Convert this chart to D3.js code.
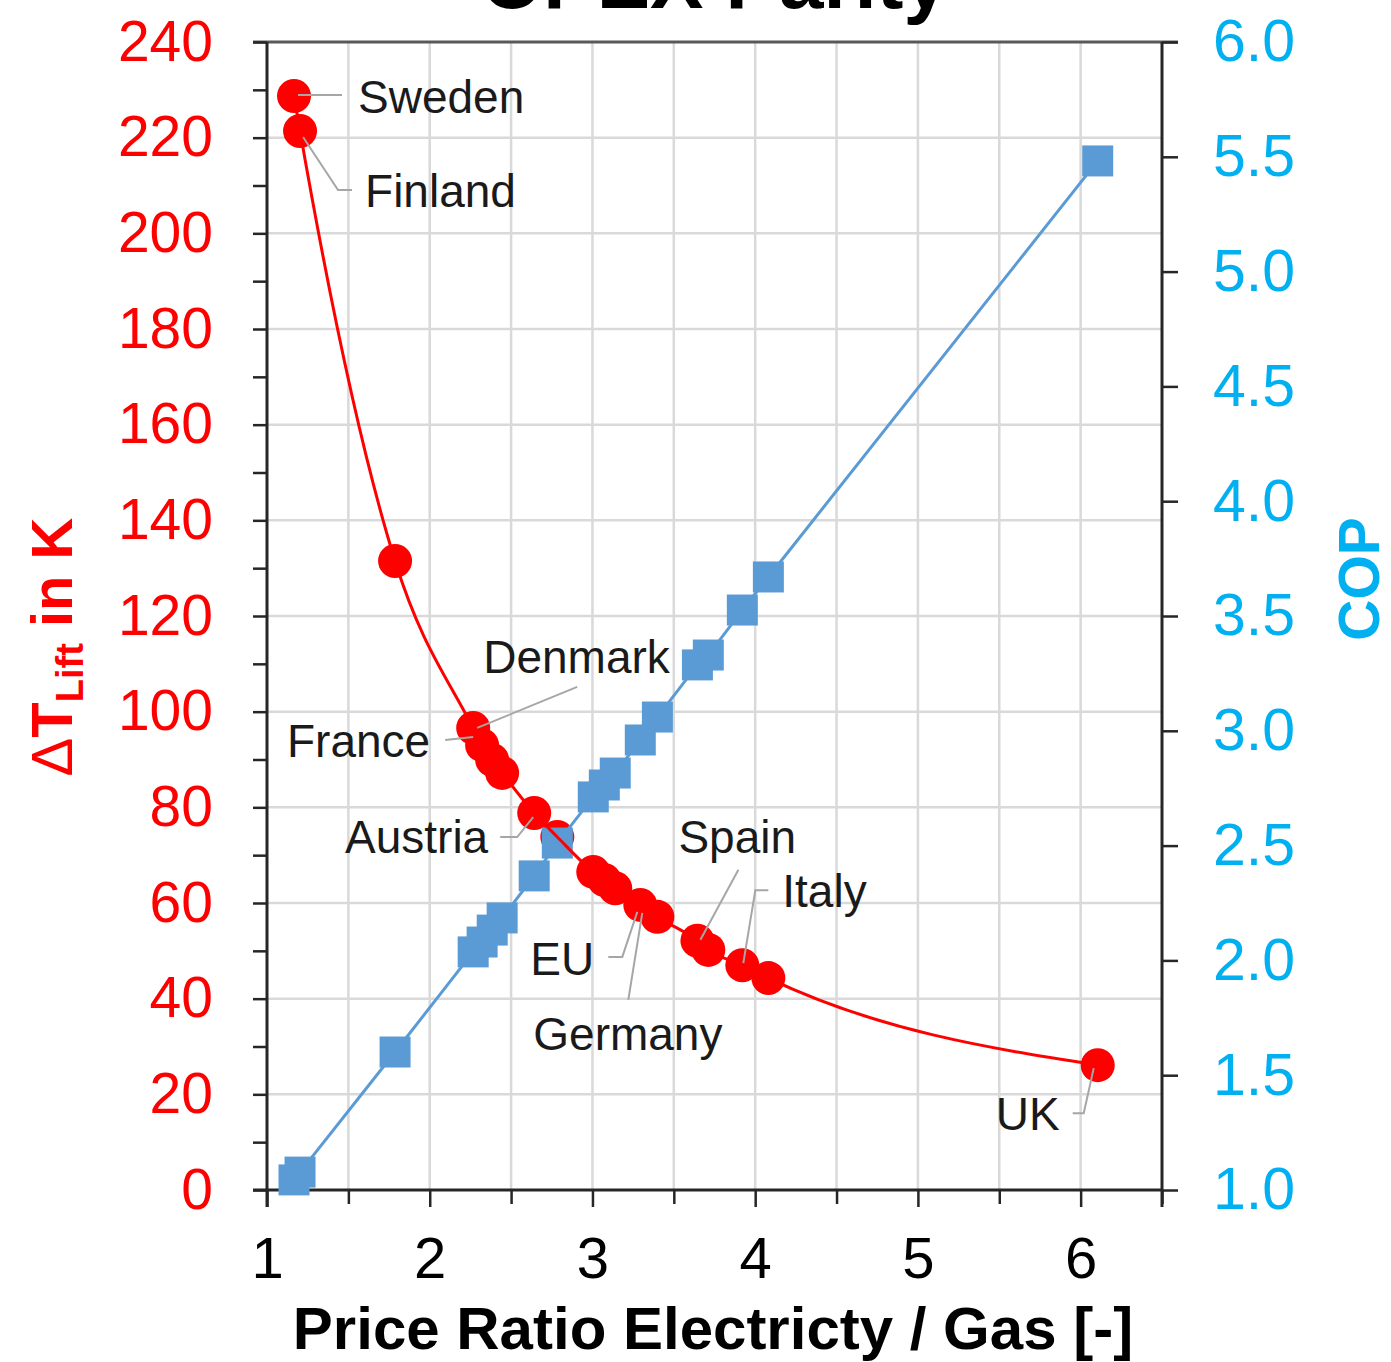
<!DOCTYPE html>
<html>
<head>
<meta charset="utf-8">
<script src="https://cdn.jsdelivr.net/npm/d3@7"></script>
<style>
  html, body { margin: 0; padding: 0; background: #fff; }
  svg { display: block; }
  text { font-family: "Liberation Sans", Arial, sans-serif; }
</style>
</head>
<body>
<svg id="chart" width="1391" height="1362"></svg>
<script>
// ---------- data ----------
const countries = ["Sweden","Finland","","France","Denmark","","","Austria","","","","EU","Germany","","Spain","","Italy","","UK"];
const priceRatio = [1.166,1.203,1.787,2.267,2.322,2.384,2.445,2.642,2.784,3.005,3.073,3.140,3.294,3.399,3.645,3.712,3.921,4.081,6.105];
const deltaTLift = [228.7,221.4,131.5,96.6,93.0,89.9,87.2,78.8,73.8,66.5,64.8,63.1,59.6,57.1,52.1,50.2,47.0,44.3,26.1];
const cop        = [1.044,1.078,1.601,2.037,2.080,2.132,2.185,2.368,2.511,2.712,2.764,2.816,2.960,3.060,3.287,3.330,3.526,3.670,5.482];

const xTicks = [1,1.5,2,2.5,3,3.5,4,4.5,5,5.5,6,6.5];
const xLabels = [1,2,3,4,5,6];
const yLeftTicks = d3.range(0, 241, 10);
const yLeftLabels = [0,20,40,60,80,100,120,140,160,180,200,220,240];
const yRightTicks = [1.0,1.5,2.0,2.5,3.0,3.5,4.0,4.5,5.0,5.5,6.0];

// annotations: label text, anchor point index, layout offsets (px)
const annotations = [
  {text:"Sweden",  idx:0,  dx:64,   dy:17,  anchor:"start", leader:[[4,-1],[48,-1]]},
  {text:"Finland", idx:1,  dx:65,   dy:76,  anchor:"start", leader:[[3,6],[38,59],[52,59]]},
  {text:"Denmark", idx:3,  dx:10,   dy:-55, anchor:"start", leader:[[4,0],[104,-41]]},
  {text:"France",  idx:3,  dx:-43,  dy:29,  anchor:"end",   leader:[[-28,12],[0,9]]},
  {text:"Austria", idx:7,  dx:-46,  dy:40,  anchor:"end",   leader:[[-34,24],[-17,24],[-1,4]]},
  {text:"Spain",   idx:14, dx:-19,  dy:-88, anchor:"start", leader:[[41,-71],[3,-1]]},
  {text:"Italy",   idx:16, dx:40,   dy:-58, anchor:"start", leader:[[26,-75],[13,-75],[1,-2]]},
  {text:"EU",      idx:12, dx:-110, dy:70,  anchor:"start", leader:[[-32,52],[-18,52],[-3,7]]},
  {text:"Germany", idx:12, dx:-107, dy:145, anchor:"start", leader:[[-12,95],[2,8]]},
  {text:"UK",      idx:18, dx:-102, dy:65,  anchor:"start", leader:[[-25,48],[-14,48],[-4,3]]}
];

// ---------- layout ----------
const L = 267, R = 1162, T = 42, B = 1190;
const RED = "#FF0000", BLUE = "#5B9BD5", CYAN = "#00B0F0", AX = "#262626", GRID = "#D9D9D9";

const svg = d3.select("#chart");
const x  = d3.scaleLinear().domain([1, 6.5]).range([L, R]);
const yL = d3.scaleLinear().domain([0, 240]).range([B, T]);
const yR = d3.scaleLinear().domain([1, 6]).range([B, T]);

// title (cut off at top, as in the reference)
svg.append("text").attr("x", (L+R)/2).attr("y", 8)
  .attr("text-anchor","middle").attr("font-size", 80).attr("font-weight","bold")
  .attr("fill","#000").text("OPEX Parity");

// gridlines
const grid = svg.append("g");
grid.selectAll("line.v").data(xTicks.filter(v => v > 1 && v < 6.5)).join("line")
  .attr("x1", d => x(d)).attr("x2", d => x(d)).attr("y1", T).attr("y2", B)
  .attr("stroke", GRID).attr("stroke-width", 2.5);
grid.selectAll("line.h").data(yLeftLabels.filter(v => v > 0 && v < 240)).join("line")
  .attr("x1", L).attr("x2", R).attr("y1", d => yL(d)).attr("y2", d => yL(d))
  .attr("stroke", GRID).attr("stroke-width", 2.5);

// top border
svg.append("line").attr("x1", L-14).attr("x2", R+16).attr("y1", T).attr("y2", T)
  .attr("stroke", "#595959").attr("stroke-width", 3);

// axes
function styleAxis(g, color, size) {
  g.select(".domain").attr("stroke", AX).attr("stroke-width", 3);
  g.selectAll(".tick line").attr("stroke", AX).attr("stroke-width", 2.5);
  g.selectAll(".tick text").attr("fill", color).attr("font-size", size)
    .attr("font-family", '"Liberation Sans", Arial, sans-serif');
}

const axL = d3.axisLeft(yL).tickValues(yLeftTicks).tickSize(14).tickPadding(40)
  .tickFormat(d => yLeftLabels.includes(d) ? d : "");
svg.append("g").attr("transform", `translate(${L},0)`).call(axL)
  .call(g => styleAxis(g, RED, 57))
  .call(g => g.select(".domain").attr("d", `M0,${T}V${B+17}`));

const axR = d3.axisRight(yR).tickValues(yRightTicks).tickSize(16).tickPadding(35)
  .tickFormat(d3.format(".1f"));
svg.append("g").attr("transform", `translate(${R},0)`).call(axR)
  .call(g => styleAxis(g, CYAN, 59))
  .call(g => g.select(".domain").attr("d", `M0,${T}V${B+17}`));

const axB = d3.axisBottom(x).tickValues(xTicks).tickSize(17).tickPadding(30)
  .tickFormat(d => xLabels.includes(d) ? d : "");
svg.append("g").attr("transform", `translate(0,${B})`).call(axB)
  .call(g => styleAxis(g, "#000", 58))
  .call(g => g.select(".domain").attr("d", `M${L-14},0H${R}`))
  .call(g => g.selectAll(".tick line").attr("y2", d => xLabels.includes(d) ? 17 : 14));

// axis titles
svg.append("text").attr("x", 713).attr("y", 1349)
  .attr("text-anchor","middle").attr("font-size", 60).attr("font-weight","bold")
  .attr("fill","#000").text("Price Ratio Electricty / Gas [-]");

const yt = svg.append("text").attr("transform", "translate(72,647) rotate(-90)")
  .attr("text-anchor","middle").attr("font-size", 58).attr("font-weight","bold").attr("fill", RED);
yt.append("tspan").attr("font-weight","normal").text("Δ");
yt.append("tspan").text("T");
yt.append("tspan").attr("font-size", 38).attr("dy", 11).text("Lift");
yt.append("tspan").attr("dy", -11).text(" in K");

svg.append("text").attr("transform", "translate(1379,579) rotate(-90)")
  .attr("text-anchor","middle").attr("font-size", 57).attr("font-weight","bold")
  .attr("fill", CYAN).text("COP");

// data objects
const pts = priceRatio.map((p, i) => ({p, t: deltaTLift[i], c: cop[i], name: countries[i]}));

// red markers
svg.append("g").selectAll("circle").data(pts).join("circle")
  .attr("cx", d => x(d.p)).attr("cy", d => yL(d.t)).attr("r", 17).attr("fill", RED);

// blue series
svg.append("path").datum(pts)
  .attr("d", d3.line().x(d => x(d.p)).y(d => yR(d.c)))
  .attr("fill","none").attr("stroke", BLUE).attr("stroke-width", 3);
const S = 31;
svg.append("g").selectAll("rect").data(pts).join("rect")
  .attr("x", d => x(d.p) - S/2).attr("y", d => yR(d.c) - S/2)
  .attr("width", S).attr("height", S).attr("fill", BLUE);

// red smooth line
svg.append("path").datum(pts)
  .attr("d", d3.line().x(d => x(d.p)).y(d => yL(d.t)).curve(d3.curveMonotoneX))
  .attr("fill","none").attr("stroke", RED).attr("stroke-width", 3);

// annotations
const ann = svg.append("g");
annotations.forEach(a => {
  const px = x(pts[a.idx].p), py = yL(pts[a.idx].t);
  ann.append("path")
    .attr("d", d3.line()(a.leader.map(([dx, dy]) => [px + dx, py + dy])))
    .attr("fill","none").attr("stroke", "#A6A6A6").attr("stroke-width", 2);
  ann.append("text").attr("x", px + a.dx).attr("y", py + a.dy)
    .attr("text-anchor", a.anchor).attr("font-size", 46).attr("fill", "#1a1a1a").text(a.text);
});
</script>
</body>
</html>
